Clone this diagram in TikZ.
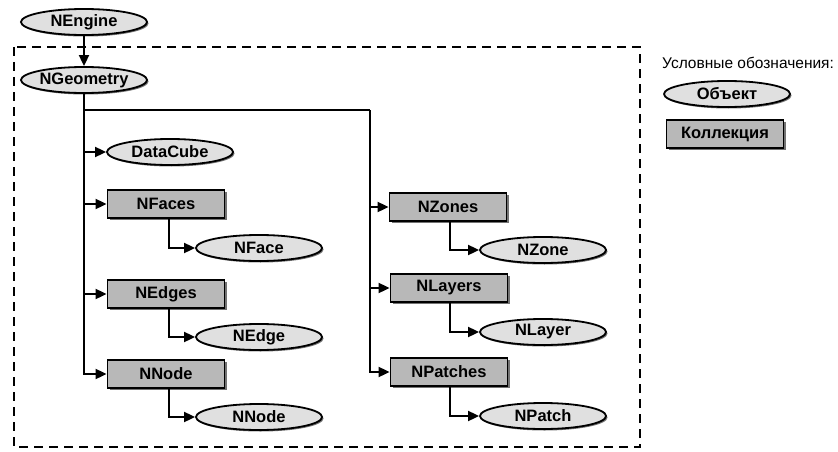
\documentclass[tikz,border=0pt]{standalone}
\usepackage{fontspec}
\setmainfont{Liberation Sans}
\usetikzlibrary{shapes.geometric,arrows.meta,shadows}
\begin{document}
\begin{tikzpicture}[x=1pt,y=-1pt,
  obj/.style={ellipse,draw=black,line width=1.8pt,fill=objfill,minimum width=126pt,minimum height=26pt,inner sep=0pt,
    font=\fontsize{16.5}{18}\selectfont\bfseries,
    drop shadow={shadow xshift=1.5pt,shadow yshift=-1.5pt,fill=black!55,opacity=1}},
  coll/.style={rectangle,draw=black,line width=1.8pt,fill=collfill,minimum width=117pt,minimum height=28pt,inner sep=0pt,
    font=\fontsize{16.5}{18}\selectfont\bfseries,
    drop shadow={shadow xshift=2pt,shadow yshift=-2pt,fill=black!55,opacity=1}},
  conn/.style={line width=1.8pt},
  arr/.style={line width=1.8pt,-{Triangle[length=11pt,width=10pt]}}]
\definecolor{objfill}{HTML}{E0E0E0}
\definecolor{collfill}{HTML}{B8B8B8}
\useasboundingbox[fill=white] (0,0) rectangle (838,452);
% dashed frame
\draw[line width=1.8pt,dash pattern=on 9pt off 6pt] (14,47) rectangle (640,447);
% nodes
\node[obj] (eng) at (84,22) {NEngine};
\node[obj] (geo) at (84,80) {NGeometry};
\node[obj] (dc) at (170,152) {DataCube};
\node[coll] (faces) at (166,204) {NFaces};
\node[obj] (face) at (259,248) {NFace};
\node[coll] (edges) at (166,294) {NEdges};
\node[obj] (edge) at (259,337) {NEdge};
\node[coll] (nodes) at (166,374) {NNode};
\node[obj] (node) at (259,417) {NNode};
\node[coll] (zones) at (448,207) {NZones};
\node[obj] (zone) at (543,250) {NZone};
\node[coll] (layers) at (449,288) {NLayers};
\node[obj] (layer) at (543,332) {NLayer};
\node[coll] (patches) at (449,372) {NPatches};
\node[obj] (patch) at (543,416) {NPatch};
% legend
\node[anchor=west,inner sep=0pt,font=\fontsize{15.5}{17}\selectfont] (legt) at (662,63) {Условные обозначения:};
\node[obj] (lobj) at (727,94) {Объект};
\node[coll] (lcoll) at (725,134) {Коллекция};
% connectors
\draw[arr] (eng) -- (geo);
\coordinate (rt) at (370,110);
\draw[arr] (geo.south) |- (nodes.west);
\draw[arr] (geo.south |- dc.west) -- (dc.west);
\draw[arr] (geo.south |- faces.west) -- (faces.west);
\draw[arr] (geo.south |- edges.west) -- (edges.west);
\draw[conn] (geo.south |- rt) -- (rt);
\draw[arr] (rt) |- (patches.west);
\draw[arr] (rt |- zones.west) -- (zones.west);
\draw[arr] (rt |- layers.west) -- (layers.west);
\draw[arr] ([xshift=3pt]faces.south) |- (face.west);
\draw[arr] ([xshift=3pt]edges.south) |- (edge.west);
\draw[arr] ([xshift=3pt]nodes.south) |- (node.west);
\draw[arr] ([xshift=2pt]zones.south) |- (zone.west);
\draw[arr] ([xshift=1pt]layers.south) |- (layer.west);
\draw[arr] ([xshift=1pt]patches.south) |- (patch.west);
\end{tikzpicture}
\end{document}
